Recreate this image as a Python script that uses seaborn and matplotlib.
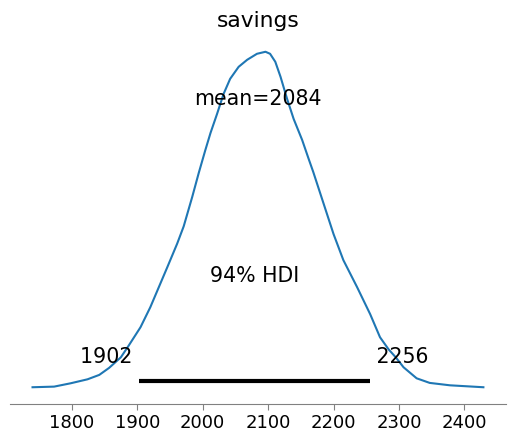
import matplotlib
matplotlib.use("Agg")
import matplotlib.pyplot as plt
import seaborn as sns
import pandas as pd

# ── data ──────────────────────────────────────────
VAR_NAME   = "savings"
savings_x  = [1740, 1773, 1798, 1824, 1842, 1857, 1875, 1887, 1905, 1920,
              1933, 1946, 1961, 1971, 1984, 1994, 2004, 2012, 2022, 2032,
              2042, 2055, 2068, 2083, 2096, 2103, 2111, 2119, 2129, 2139,
              2152, 2162, 2169, 2185, 2200, 2215, 2236, 2256, 2271, 2284,
              2295, 2307, 2327, 2347, 2378, 2429]
density    = [0.0000010, 0.0000088, 0.0000501, 0.0001003, 0.0001555, 0.0002432,
              0.0003761, 0.0005228, 0.0007522, 0.0010030, 0.0012537, 0.0015044,
              0.0017978, 0.0020150, 0.0023820, 0.0026830, 0.0029675, 0.0031844,
              0.0034226, 0.0036733, 0.0038614, 0.0040118, 0.0040996, 0.0041748,
              0.0042000, 0.0041748, 0.0040745, 0.0038865, 0.0036107, 0.0033599,
              0.0030966, 0.0028584, 0.0026955, 0.0022943, 0.0019182, 0.0015922,
              0.0012537, 0.0009152, 0.0006269, 0.0004764, 0.0003761, 0.0002507,
              0.0001128, 0.0000552, 0.0000251, 0.0000010]
MEAN       = 2084
HDI        = [1902, 2256]
HDI_PROB   = 94
XTICKS     = [1800, 1900, 2000, 2100, 2200, 2300, 2400]

LABEL_SIZE = 14.8
TICK_SIZE  = 13

df = pd.DataFrame({"x": savings_x, "density": density})

fig = plt.figure(figsize=(5.15, 4.43), dpi=100)
ax = fig.add_axes([0.0194, 0.088, 0.963, 0.833])

sns.lineplot(data=df, x="x", y="density", ax=ax, color="C0", lw=1.5)

# HDI bar sits just above zero, like arviz does it
max_data = max(density)
ax.plot(HDI, [max_data * 0.02] * 2, lw=3, color="k", solid_capstyle="butt")

plot_height = ax.get_ylim()[1]
ax.text(MEAN, plot_height * 0.8, f"mean={MEAN}", size=LABEL_SIZE, ha="center")
ax.text(sum(HDI) / 2, plot_height * 0.3, f"{HDI_PROB}% HDI", size=LABEL_SIZE, ha="center")
ax.text(HDI[0], plot_height * 0.07, f"{HDI[0]} ", size=LABEL_SIZE, ha="right")
ax.text(HDI[1], plot_height * 0.07, f" {HDI[1]}", size=LABEL_SIZE, ha="left")

ax.set_title(VAR_NAME, fontsize=15.7)
ax.set_xticks(XTICKS)
ax.set_xlabel("")
ax.set_ylabel("")
ax.set_yticks([])
ax.tick_params(axis="x", labelsize=TICK_SIZE, color="0.5", length=4)
for side in ["left", "right", "top"]:
    ax.spines[side].set_visible(False)
ax.spines["bottom"].set_color("0.5")

fig.savefig("out.png", dpi=100)
